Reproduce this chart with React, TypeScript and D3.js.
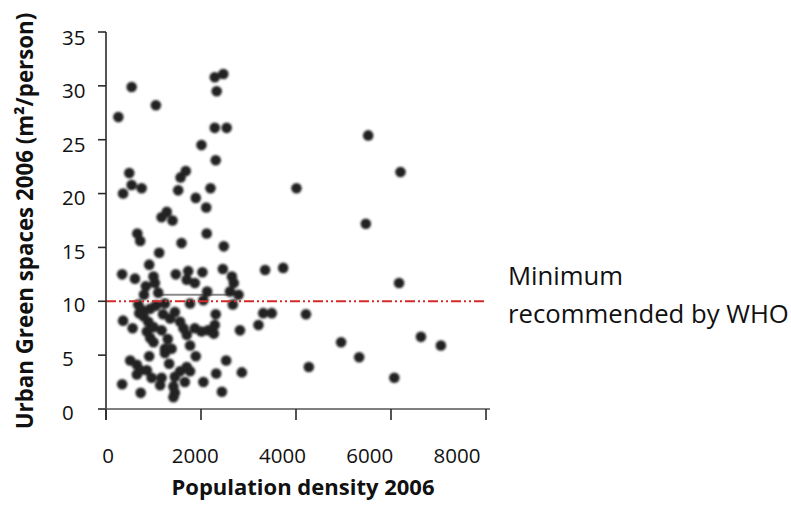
import React from "react";
import * as d3 from "d3";

// Population density 2006 (inhabitants / km²)
const density: number[] = [
  260, 540, 1050, 2290, 2470, 2330, 2290, 2540, 2010, 2310,
  490, 540, 750, 360, 1680, 1570, 1520, 2200, 4010, 1890,
  2110, 1280, 1170, 1400, 660, 720, 2120, 1590, 2480, 1120,
  5520, 6200, 5470, 6170, 4210, 4950, 5330, 4270, 6070, 6630,
  7050, 3350, 3730, 3310, 3490, 3210, 2820, 2860, 2440, 2530,
  2320, 2050, 910, 340, 610, 1000, 1470, 1730, 1700, 1870,
  2030, 2460, 2650, 2690, 840, 1030, 1100, 800, 2130, 2610,
  2790, 1770, 2050, 2670, 680, 750, 930, 1240, 1450, 1350,
  790, 890, 1000, 1170, 360, 560, 1560, 1630, 1870, 2010,
  2150, 2290, 2270, 2310, 1700, 1770, 860, 930, 1000, 1240,
  1380, 1240, 1890, 910, 510, 650, 720, 650, 860, 1330,
  1700, 1560, 1770, 960, 1170, 1140, 1450, 1660, 1420, 1450,
  1420, 340, 730, 1050, 1300, 1200, 700,
];

// Urban green spaces 2006 (m² / person)
const greenSpace: number[] = [
  27.1, 29.9, 28.2, 30.8, 31.1, 29.5, 26.1, 26.1, 24.5, 23.1,
  21.9, 20.8, 20.5, 20.0, 22.1, 21.5, 20.3, 20.5, 20.5, 19.6,
  18.7, 18.3, 17.8, 17.5, 16.3, 15.6, 16.3, 15.4, 15.1, 14.5,
  25.4, 22.0, 17.2, 11.7, 8.8, 6.2, 4.8, 3.9, 2.9, 6.7,
  5.9, 12.9, 13.1, 8.9, 8.9, 7.8, 7.3, 3.4, 1.6, 4.5,
  3.3, 2.5, 13.4, 12.5, 12.1, 12.3, 12.5, 12.8, 12.0, 11.7,
  12.7, 13.0, 12.3, 11.7, 11.4, 11.7, 10.8, 10.6, 10.9, 10.9,
  10.6, 9.8, 10.1, 9.7, 9.7, 9.2, 9.3, 9.8, 9.0, 8.4,
  8.6, 8.1, 7.6, 7.3, 8.2, 7.5, 8.1, 7.5, 7.5, 7.2,
  7.3, 7.8, 7.0, 8.8, 6.9, 5.9, 7.2, 6.6, 6.2, 5.6,
  5.6, 5.2, 4.9, 4.9, 4.5, 4.1, 3.6, 3.2, 3.6, 4.2,
  3.9, 3.5, 3.5, 2.9, 2.9, 2.2, 3.0, 2.5, 2.1, 1.5,
  1.1, 2.3, 1.5, 9.6, 6.5, 8.8, 8.9,
];

const xTicks: number[] = [0, 2000, 4000, 6000, 8000];
const yTicks: number[] = [0, 5, 10, 15, 20, 25, 30, 35];
const whoMinimum = 10;
const grayLineX: number[] = [1070, 2570];
const grayLineY = 10.6;

const xTitle = "Population density 2006";
const yTitle = "Urban Green spaces 2006 (m²/person)";
const noteLines: string[] = ["Minimum", "recommended by WHO"];

const W = 791;
const H = 507;

export default function App() {
  const x = d3.scaleLinear().domain([0, 8000]).range([106, 486]);
  const y = d3.scaleLinear().domain([0, 35]).range([409, 32]);
  // tick labels are laid out slightly differently from the tick marks
  const xLab = d3.scaleLinear().domain([0, 8000]).range([108, 457]);
  const yLab = d3.scaleLinear().domain([0, 35]).range([412, 37]);

  const font = "'Open Sans', 'Noto Sans', sans-serif";
  const axisColor = "#2a2a2a";

  const pts = density.map((d, i) => ({ x: d, y: greenSpace[i] }));

  return (
    <svg
      width={W}
      height={H}
      viewBox={`0 0 ${W} ${H}`}
      style={{ position: "absolute", left: 0, top: 0, background: "#fff" }}
    >
      <defs>
        <filter id="soft" x="-50%" y="-50%" width="200%" height="200%">
          <feGaussianBlur stdDeviation="0.8" />
        </filter>
      </defs>

      {/* gray segment */}
      <line
        x1={x(grayLineX[0])}
        x2={x(grayLineX[1])}
        y1={y(grayLineY)}
        y2={y(grayLineY)}
        stroke="#8a8a8a"
        strokeWidth={2}
      />

      {/* points */}
      <g filter="url(#soft)">
        {pts.map((p, i) => (
          <circle key={i} cx={x(p.x)} cy={y(p.y)} r={5.3} fill="#222" />
        ))}
      </g>

      {/* WHO line */}
      <line
        x1={x(0)}
        x2={485}
        y1={y(whoMinimum)}
        y2={y(whoMinimum)}
        stroke="#d42a2a"
        strokeWidth={2}
        strokeDasharray="10,3,2,3,2,3"
      />

      {/* y axis */}
      <line x1={x(0)} x2={x(0)} y1={y(35)} y2={420} stroke={axisColor} strokeWidth={1.6} />
      {yTicks.map((t) => (
        <line key={"yt" + t} x1={98} x2={x(0)} y1={y(t)} y2={y(t)} stroke={axisColor} strokeWidth={1.6} />
      ))}
      {yTicks.map((t) => (
        <text
          key={"yl" + t}
          x={62}
          y={yLab(t) + 7.5}
          fontFamily={font}
          fontSize={20.5}
          fill="#111"
        >
          {t}
        </text>
      ))}

      {/* x axis */}
      <line x1={100} x2={490} y1={y(0)} y2={y(0)} stroke="#555" strokeWidth={1.6} />
      {xTicks.map((t) => (
        <line key={"xt" + t} x1={x(t)} x2={x(t)} y1={y(0)} y2={420} stroke={axisColor} strokeWidth={1.6} />
      ))}
      {xTicks.map((t) => (
        <text
          key={"xl" + t}
          x={xLab(t)}
          y={463}
          textAnchor="middle"
          fontFamily={font}
          fontSize={20.5}
          fill="#111"
        >
          {t}
        </text>
      ))}

      {/* titles */}
      <text
        x={303}
        y={495}
        textAnchor="middle"
        fontFamily={font}
        fontWeight="bold"
        fontSize={22}
        fill="#111"
      >
        {xTitle}
      </text>
      <text
        transform={`translate(33, 221) rotate(-90)`}
        textAnchor="middle"
        fontFamily={font}
        fontWeight="bold"
        fontSize={22.3}
        fill="#111"
      >
        {yTitle}
      </text>

      {/* annotation */}
      {noteLines.map((s, i) => (
        <text
          key={s}
          x={508}
          y={285 + i * 38}
          fontFamily={font}
          fontSize={25.7}
          fill="#111"
        >
          {s}
        </text>
      ))}
    </svg>
  );
}
